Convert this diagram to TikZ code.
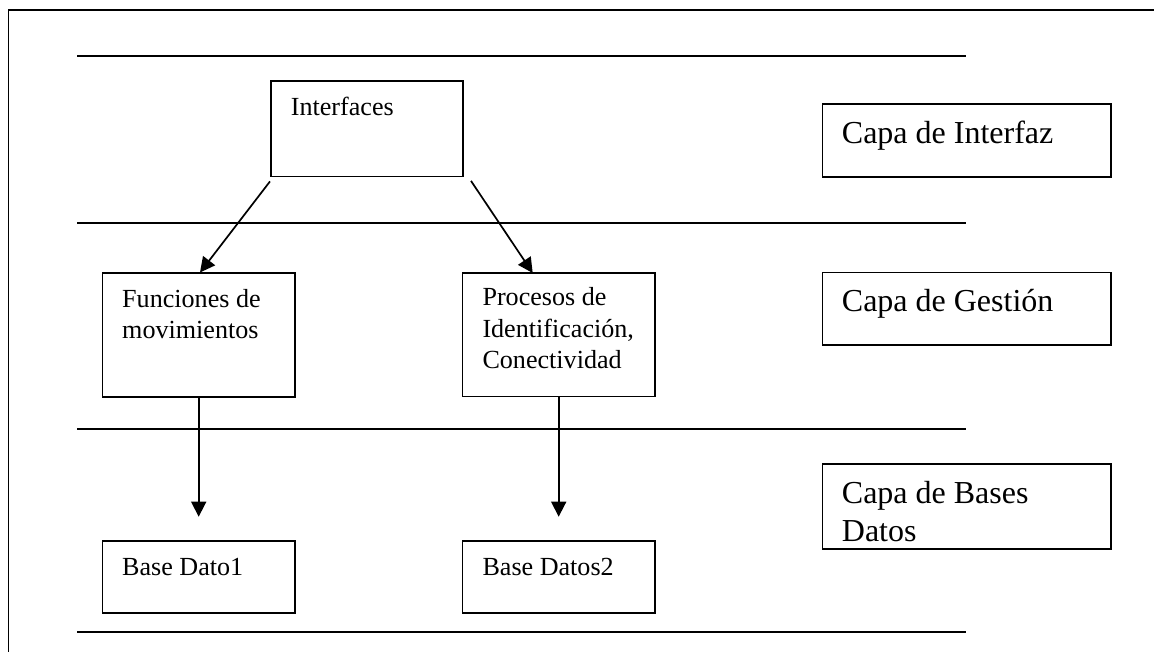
\documentclass[tikz,border=0pt]{standalone}
\usepackage{fontspec}
\setmainfont{Liberation Serif}
\usetikzlibrary{arrows.meta,calc}

\newcommand{\firstline}{\rule{0pt}{22pt}}

\begin{document}
\begin{tikzpicture}[
    x=1pt, y=-1pt,
    frameline/.style={line width=1.8pt},
    boxnode/.style={draw, line width=1.7pt, rectangle, inner sep=0pt, anchor=north west},
    smalltxt/.style={font=\fontsize{26.1}{31.5}\selectfont, inner sep=0pt, align=left},
    bigtxt/.style={font=\fontsize{32}{38}\selectfont, inner sep=0pt, align=left},
    flow/.style={line width=1.7pt, -{Triangle[length=15pt,width=15pt]}},
  ]
  \clip (0,0) rectangle (1154,652);
  \fill[white] (0,0) rectangle (1154,652);

  % outer frame, running past the right and bottom edges
  \draw[frameline] (8.5,10) rectangle (1200,700);

  % layer separators
  \foreach \yy/\nm in {55.7/sepA, 223.3/sepB, 428.7/sepC, 632/sepD} {
    \coordinate (\nm-l) at (77,\yy);
    \coordinate (\nm-r) at (966,\yy);
    \draw[line width=1.7pt] (\nm-l) -- (\nm-r);
  }

  % component boxes
  \node[boxnode, minimum width=192.3pt, minimum height=95.7pt] (intf) at (270,80) {};
  \node[boxnode, minimum width=192.3pt, minimum height=124pt] (func) at (101.7,272) {};
  \node[boxnode, minimum width=192.3pt, minimum height=123.5pt] (proc) at (461.7,272) {};
  \node[boxnode, minimum width=192.3pt, minimum height=72pt] (bdA) at (101.7,540) {};
  \node[boxnode, minimum width=192.3pt, minimum height=72pt] (bdB) at (461.7,540) {};

  % layer name boxes
  \node[boxnode, minimum width=288.3pt, minimum height=72.7pt] (capaI) at (821.7,103.3) {};
  \node[boxnode, minimum width=288.3pt, minimum height=72.3pt] (capaG) at (821.7,271.7) {};
  \node[boxnode, minimum width=288.3pt, minimum height=85pt] (capaB) at (821.7,463.3) {};

  % box texts
  \node[smalltxt, anchor=base west] (tIntf) at (290.7,116) {Interfaces};
  \node[smalltxt, anchor=north west] (tFunc) at (122,307-22) {\firstline Funciones de\\movimientos};
  \node[smalltxt, anchor=north west] (tProc) at (482.3,305.7-22) {\firstline Procesos de\\Identificación,\\Conectividad};
  \node[smalltxt, anchor=base west] (tBdA) at (122,575.5) {Base Dato1};
  \node[smalltxt, anchor=base west] (tBdB) at (482.3,575.5) {Base Datos2};

  \node[bigtxt, anchor=base west] (tCapaI) at (841.7,144) {Capa de Interfaz};
  \node[bigtxt, anchor=base west] (tCapaG) at (841.7,311.7) {Capa de Gestión};
  \node[bigtxt, anchor=north west] (tCapaB) at (841.7,503-22) {\firstline Capa de Bases\\Datos};

  % connectors
  \coordinate (endFunc) at ($(func.north west)+(98.3,0.5)$);
  \coordinate (endProc) at ($(proc.north west)+(71,1)$);
  \draw[flow] ($(intf.south west)+(0,4)$) -- (endFunc);
  \draw[flow] ($(intf.south east)+(7,3.5)$) -- (endProc);

  \coordinate (downA) at ($(func.south)+(0,119)$);
  \coordinate (downB) at ($(proc.south)+(0,119.5)$);
  \draw[flow] (func.south) -- (downA);
  \draw[flow] (proc.south) -- (downB);
\end{tikzpicture}
\end{document}
